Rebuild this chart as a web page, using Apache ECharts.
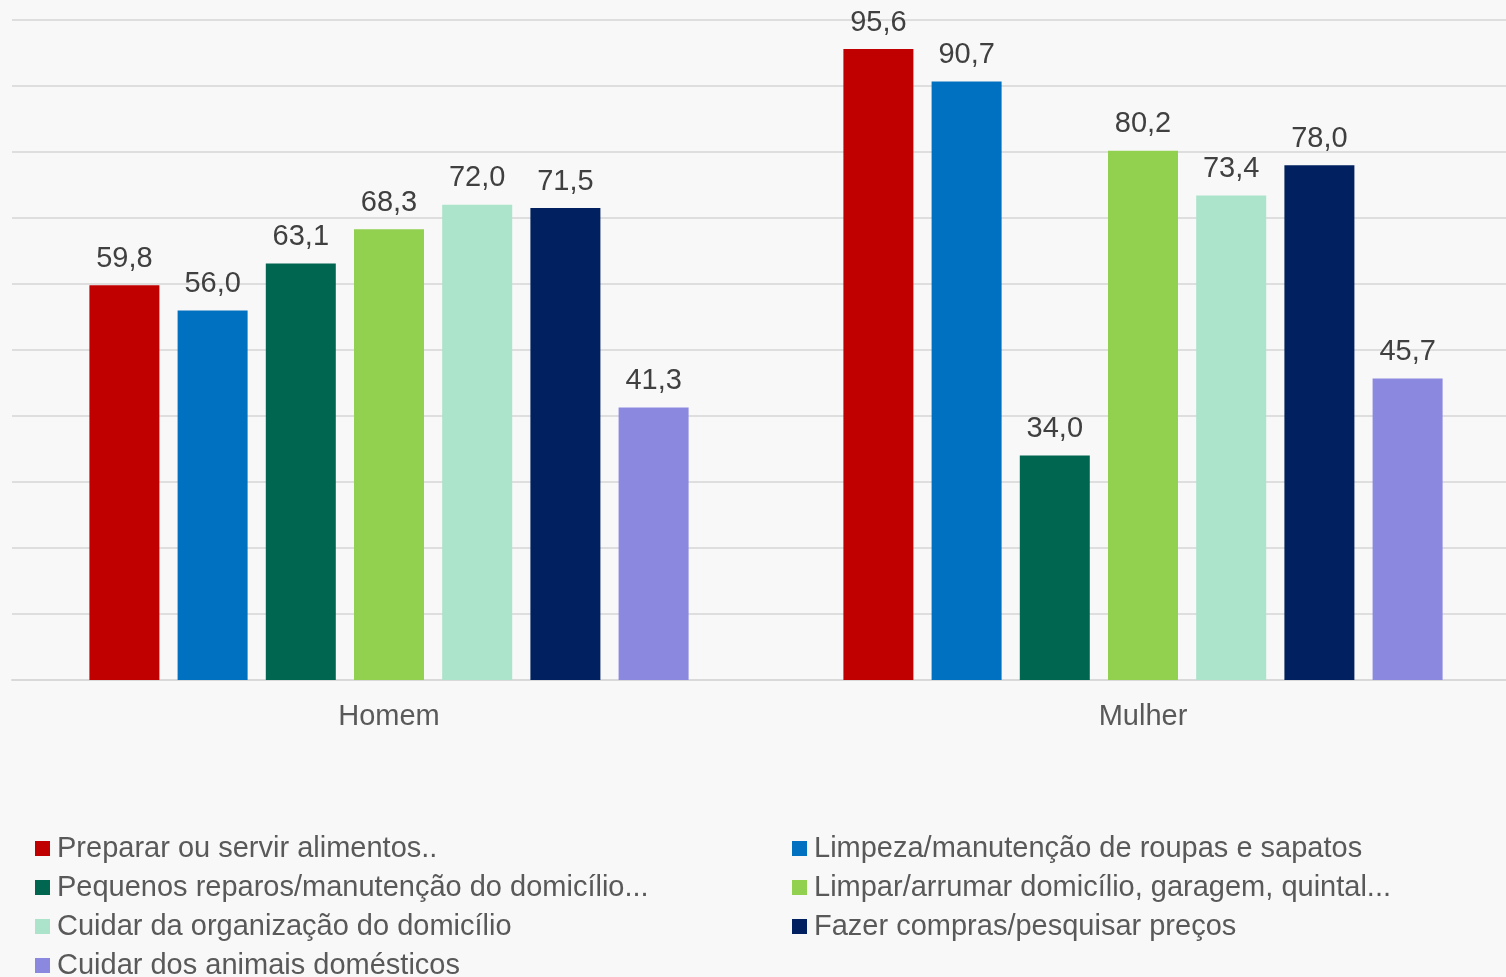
<!DOCTYPE html>
<html>
<head>
<meta charset="utf-8">
<script src="https://cdn.jsdelivr.net/npm/echarts@6/dist/echarts.min.js"></script>
<style>
html,body{margin:0;padding:0;background:#F8F8F8;overflow:hidden;width:1506px;height:977px;}
#c{width:1520px;height:977px;}
</style>
</head>
<body>
<div id="c"></div>
<script>
const categories = ['Homem', 'Mulher'];
const seriesNames = [
  'Preparar ou servir alimentos..',
  'Limpeza/manutenção de roupas e sapatos',
  'Pequenos reparos/manutenção do domicílio...',
  'Limpar/arrumar domicílio, garagem, quintal...',
  'Cuidar da organização do domicílio',
  'Fazer compras/pesquisar preços',
  'Cuidar dos animais domésticos'
];
const preparar = [59.8, 95.6];
const limpeza = [56.0, 90.7];
const reparos = [63.1, 34.0];
const limpar = [68.3, 80.2];
const organizacao = [72.0, 73.4];
const compras = [71.5, 78.0];
const animais = [41.3, 45.7];
const values = [preparar, limpeza, reparos, limpar, organizacao, compras, animais];
const colors = ['#C00000', '#0070C0', '#00664F', '#92D050', '#ABE3CB', '#002060', '#8B88E0'];

const font = '"Liberation Sans", Arial, sans-serif';
const chart = echarts.init(document.getElementById('c'));
const legendCommon = {
  orient: 'vertical',
  padding: 0,
  height: 200,
  itemWidth: 15,
  itemHeight: 15,
  itemGap: 10,
  icon: 'rect',
  textStyle: { fontFamily: font, fontSize: 29, color: '#595959', lineHeight: 29, padding: [0, 0, 0, 2] }
};
chart.setOption({
  backgroundColor: '#F8F8F8',
  animation: false,
  textStyle: { fontFamily: font },
  legend: [
    Object.assign({}, legendCommon, { left: 35, top: 834, data: [seriesNames[0], seriesNames[2], seriesNames[4], seriesNames[6]] }),
    Object.assign({}, legendCommon, { left: 792, top: 834, data: [seriesNames[1], seriesNames[3], seriesNames[5]] })
  ],
  grid: { left: 12, top: 20, right: 0, bottom: 297, containLabel: false },
  xAxis: {
    type: 'category',
    data: categories,
    axisLine: { lineStyle: { color: '#D9D9D9', width: 2 } },
    axisTick: { show: false },
    axisLabel: { fontFamily: font, fontSize: 29, color: '#595959', margin: 22 }
  },
  yAxis: {
    type: 'value',
    min: 0, max: 100, interval: 10,
    axisLabel: { show: false },
    axisLine: { show: false },
    axisTick: { show: false },
    splitLine: { lineStyle: { color: '#DEDEDE', width: 2 } }
  },
  series: seriesNames.map((n, i) => ({
    name: n,
    type: 'bar',
    data: values[i],
    barWidth: 70,
    barGap: '26%',
    itemStyle: { color: colors[i] },
    label: {
      show: true,
      position: 'top',
      distance: 12,
      fontFamily: font,
      fontSize: 29,
      color: '#404040',
      formatter: p => p.value.toFixed(1).replace('.', ',')
    }
  }))
});
</script>
</body>
</html>
